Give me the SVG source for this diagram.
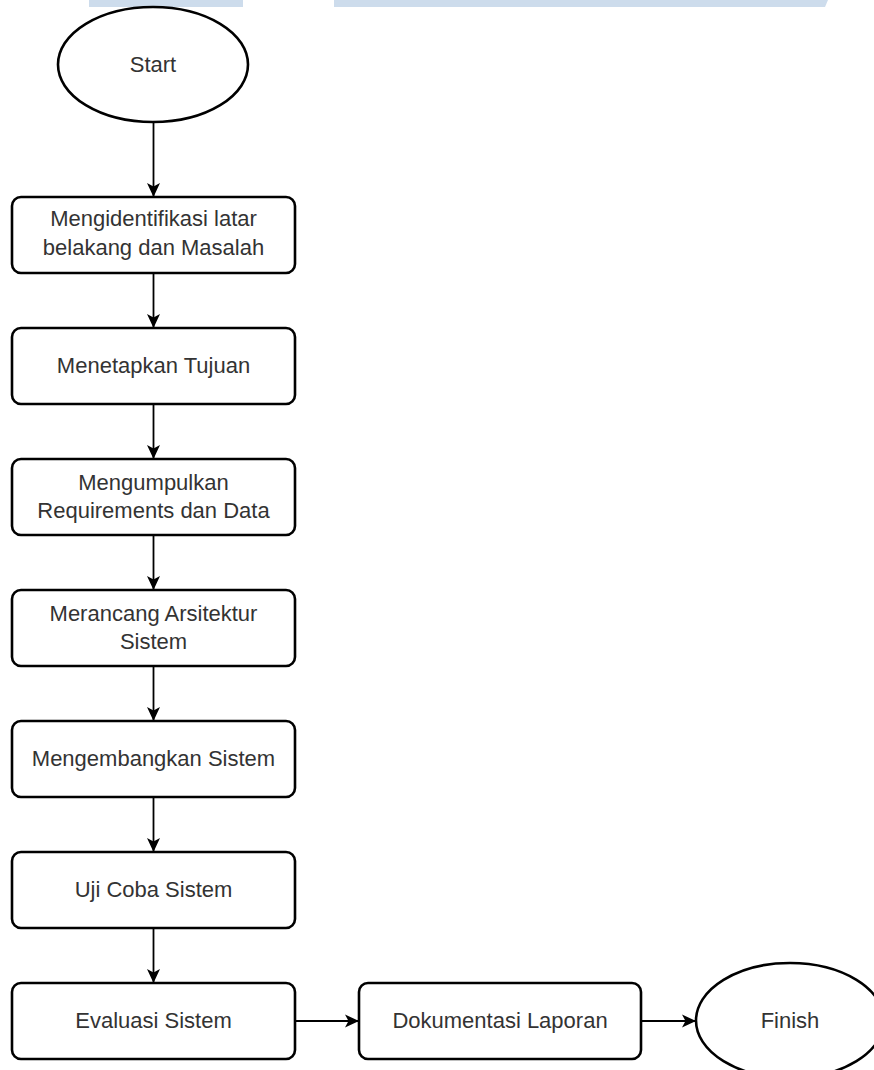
<svg xmlns="http://www.w3.org/2000/svg" width="874" height="1070" viewBox="0 0 874 1070">
<style>
.node{fill:#fff;stroke:#000;stroke-width:2.6}
.lbl{font-family:"Liberation Sans",Arial,sans-serif;font-size:22px;fill:#333;text-anchor:middle}
.edge{fill:none;stroke:#000;stroke-width:1.8}
</style>
<defs>
<marker id="arr" markerUnits="userSpaceOnUse" markerWidth="15" markerHeight="14" refX="14" refY="7" orient="auto">
<path d="M0,0.5 L14,7 L0,13.5 L3.5,7 z" fill="#000"/>
</marker>
</defs>
<rect width="874" height="1070" fill="#fff"/>
<g id="banner">
<rect x="89" y="0" width="154" height="7" fill="#cddcec"/>
<polygon points="334,0 828,0 825,7 334,7" fill="#cddcec"/>
</g>
<g id="edges">
<line class="edge" x1="153.5" y1="122" x2="153.5" y2="197" marker-end="url(#arr)"/>
<line class="edge" x1="153.5" y1="273" x2="153.5" y2="328" marker-end="url(#arr)"/>
<line class="edge" x1="153.5" y1="404" x2="153.5" y2="459" marker-end="url(#arr)"/>
<line class="edge" x1="153.5" y1="535" x2="153.5" y2="590" marker-end="url(#arr)"/>
<line class="edge" x1="153.5" y1="666" x2="153.5" y2="721" marker-end="url(#arr)"/>
<line class="edge" x1="153.5" y1="797" x2="153.5" y2="852" marker-end="url(#arr)"/>
<line class="edge" x1="153.5" y1="928" x2="153.5" y2="983" marker-end="url(#arr)"/>
<line class="edge" x1="295" y1="1021" x2="359" y2="1021" marker-end="url(#arr)"/>
<line class="edge" x1="641" y1="1021" x2="696" y2="1021" marker-end="url(#arr)"/>
</g>
<g id="start">
<ellipse class="node" cx="153" cy="64.5" rx="95" ry="57.5"/>
<text class="lbl" x="153" y="72">Start</text>
</g>
<g id="n1">
<rect class="node" x="12" y="197" width="283" height="76" rx="9"/>
<text class="lbl" x="153.5" y="226">Mengidentifikasi latar</text>
<text class="lbl" x="153.5" y="255">belakang dan Masalah</text>
</g>
<g id="n2">
<rect class="node" x="12" y="328" width="283" height="76" rx="9"/>
<text class="lbl" x="153.5" y="373">Menetapkan Tujuan</text>
</g>
<g id="n3">
<rect class="node" x="12" y="459" width="283" height="76" rx="9"/>
<text class="lbl" x="153.5" y="490">Mengumpulkan</text>
<text class="lbl" x="153.5" y="518">Requirements dan Data</text>
</g>
<g id="n4">
<rect class="node" x="12" y="590" width="283" height="76" rx="9"/>
<text class="lbl" x="153.5" y="621">Merancang Arsitektur</text>
<text class="lbl" x="153.5" y="649">Sistem</text>
</g>
<g id="n5">
<rect class="node" x="12" y="721" width="283" height="76" rx="9"/>
<text class="lbl" x="153.5" y="766">Mengembangkan Sistem</text>
</g>
<g id="n6">
<rect class="node" x="12" y="852" width="283" height="76" rx="9"/>
<text class="lbl" x="153.5" y="897">Uji Coba Sistem</text>
</g>
<g id="n7">
<rect class="node" x="12" y="983" width="283" height="76" rx="9"/>
<text class="lbl" x="153.5" y="1028">Evaluasi Sistem</text>
</g>
<g id="n8">
<rect class="node" x="359" y="983" width="282" height="76" rx="9"/>
<text class="lbl" x="500" y="1028">Dokumentasi Laporan</text>
</g>
<g id="finish">
<ellipse class="node" cx="790" cy="1020.5" rx="94" ry="57.5"/>
<text class="lbl" x="790" y="1028">Finish</text>
</g>
</svg>
